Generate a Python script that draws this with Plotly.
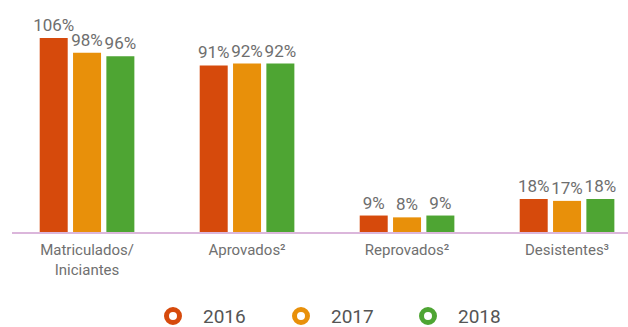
import plotly.graph_objects as go

# Categories on the x axis (superscripts mark footnotes)
categories = ["Matriculados/<br>Iniciantes", "Aprovados²",
              "Reprovados²", "Desistentes³"]

# Percentages per year
years = ["2016", "2017", "2018"]
values_2016 = [106, 91, 9, 18]
values_2017 = [98, 92, 8, 17]
values_2018 = [96, 92, 9, 18]

colors = {"2016": "#d64a0c", "2017": "#e8900a", "2018": "#4ea533"}
series = {"2016": values_2016, "2017": values_2017, "2018": values_2018}

FONT = "Roboto, 'Open Sans', sans-serif"

# Plot area geometry (pixels)
W, H = 628, 327
M_L, M_R, M_T, M_B = 12, 0, 10, 95
PW, PH = W - M_L - M_R, H - M_T - M_B

fig = go.Figure()

for yr in years:
    vals = series[yr]
    fig.add_trace(go.Bar(
        x=categories,
        y=vals,
        name=yr,
        marker=dict(color=colors[yr], line=dict(width=0)),
        text=[f"{v}%" for v in vals],
        textposition="outside",
        constraintext="none",
        textfont=dict(family=FONT, size=17, color="#6e6e6e"),
        cliponaxis=False,
        showlegend=False,
        hoverinfo="skip",
    ))

# Custom legend below the chart: thick rings followed by the year
legend_ring_px = [173, 301, 428]
legend_y_px = 316
for yr, cx in zip(years, legend_ring_px):
    xp = (cx - M_L) / PW
    yp = (M_T + PH - legend_y_px) / PH
    fig.add_shape(
        type="circle", xref="paper", yref="paper",
        xsizemode="pixel", ysizemode="pixel",
        xanchor=xp, yanchor=yp,
        x0=-6.5, x1=6.5, y0=-6.5, y1=6.5,
        line=dict(color=colors[yr], width=5),
        fillcolor="rgba(0,0,0,0)",
    )
    fig.add_annotation(
        x=(cx + 29 - M_L) / PW, y=yp, xref="paper", yref="paper",
        text=yr, showarrow=False, xanchor="left", yanchor="middle",
        borderpad=0,
        font=dict(family=FONT, size=19, color="#555555"),
    )

fig.update_layout(
    width=W,
    height=H,
    margin=dict(l=M_L, r=M_R, t=M_T, b=M_B, autoexpand=False),
    paper_bgcolor="white",
    plot_bgcolor="white",
    barmode="group",
    bargap=0.375,
    bargroupgap=0.16,
    showlegend=False,
    font=dict(family=FONT, color="#6e6e6e"),
    xaxis=dict(
        range=[-0.469, 3.381],
        showline=True,
        linecolor="#dbb6db",
        linewidth=2,
        showgrid=False,
        zeroline=False,
        ticks="",
        ticklabelstandoff=3,
        tickfont=dict(family=FONT, size=15, color="#707070"),
        fixedrange=True,
    ),
    yaxis=dict(
        range=[0, 121.3],
        visible=False,
        showgrid=False,
        zeroline=False,
        fixedrange=True,
    ),
)

fig.write_html("out.html")
